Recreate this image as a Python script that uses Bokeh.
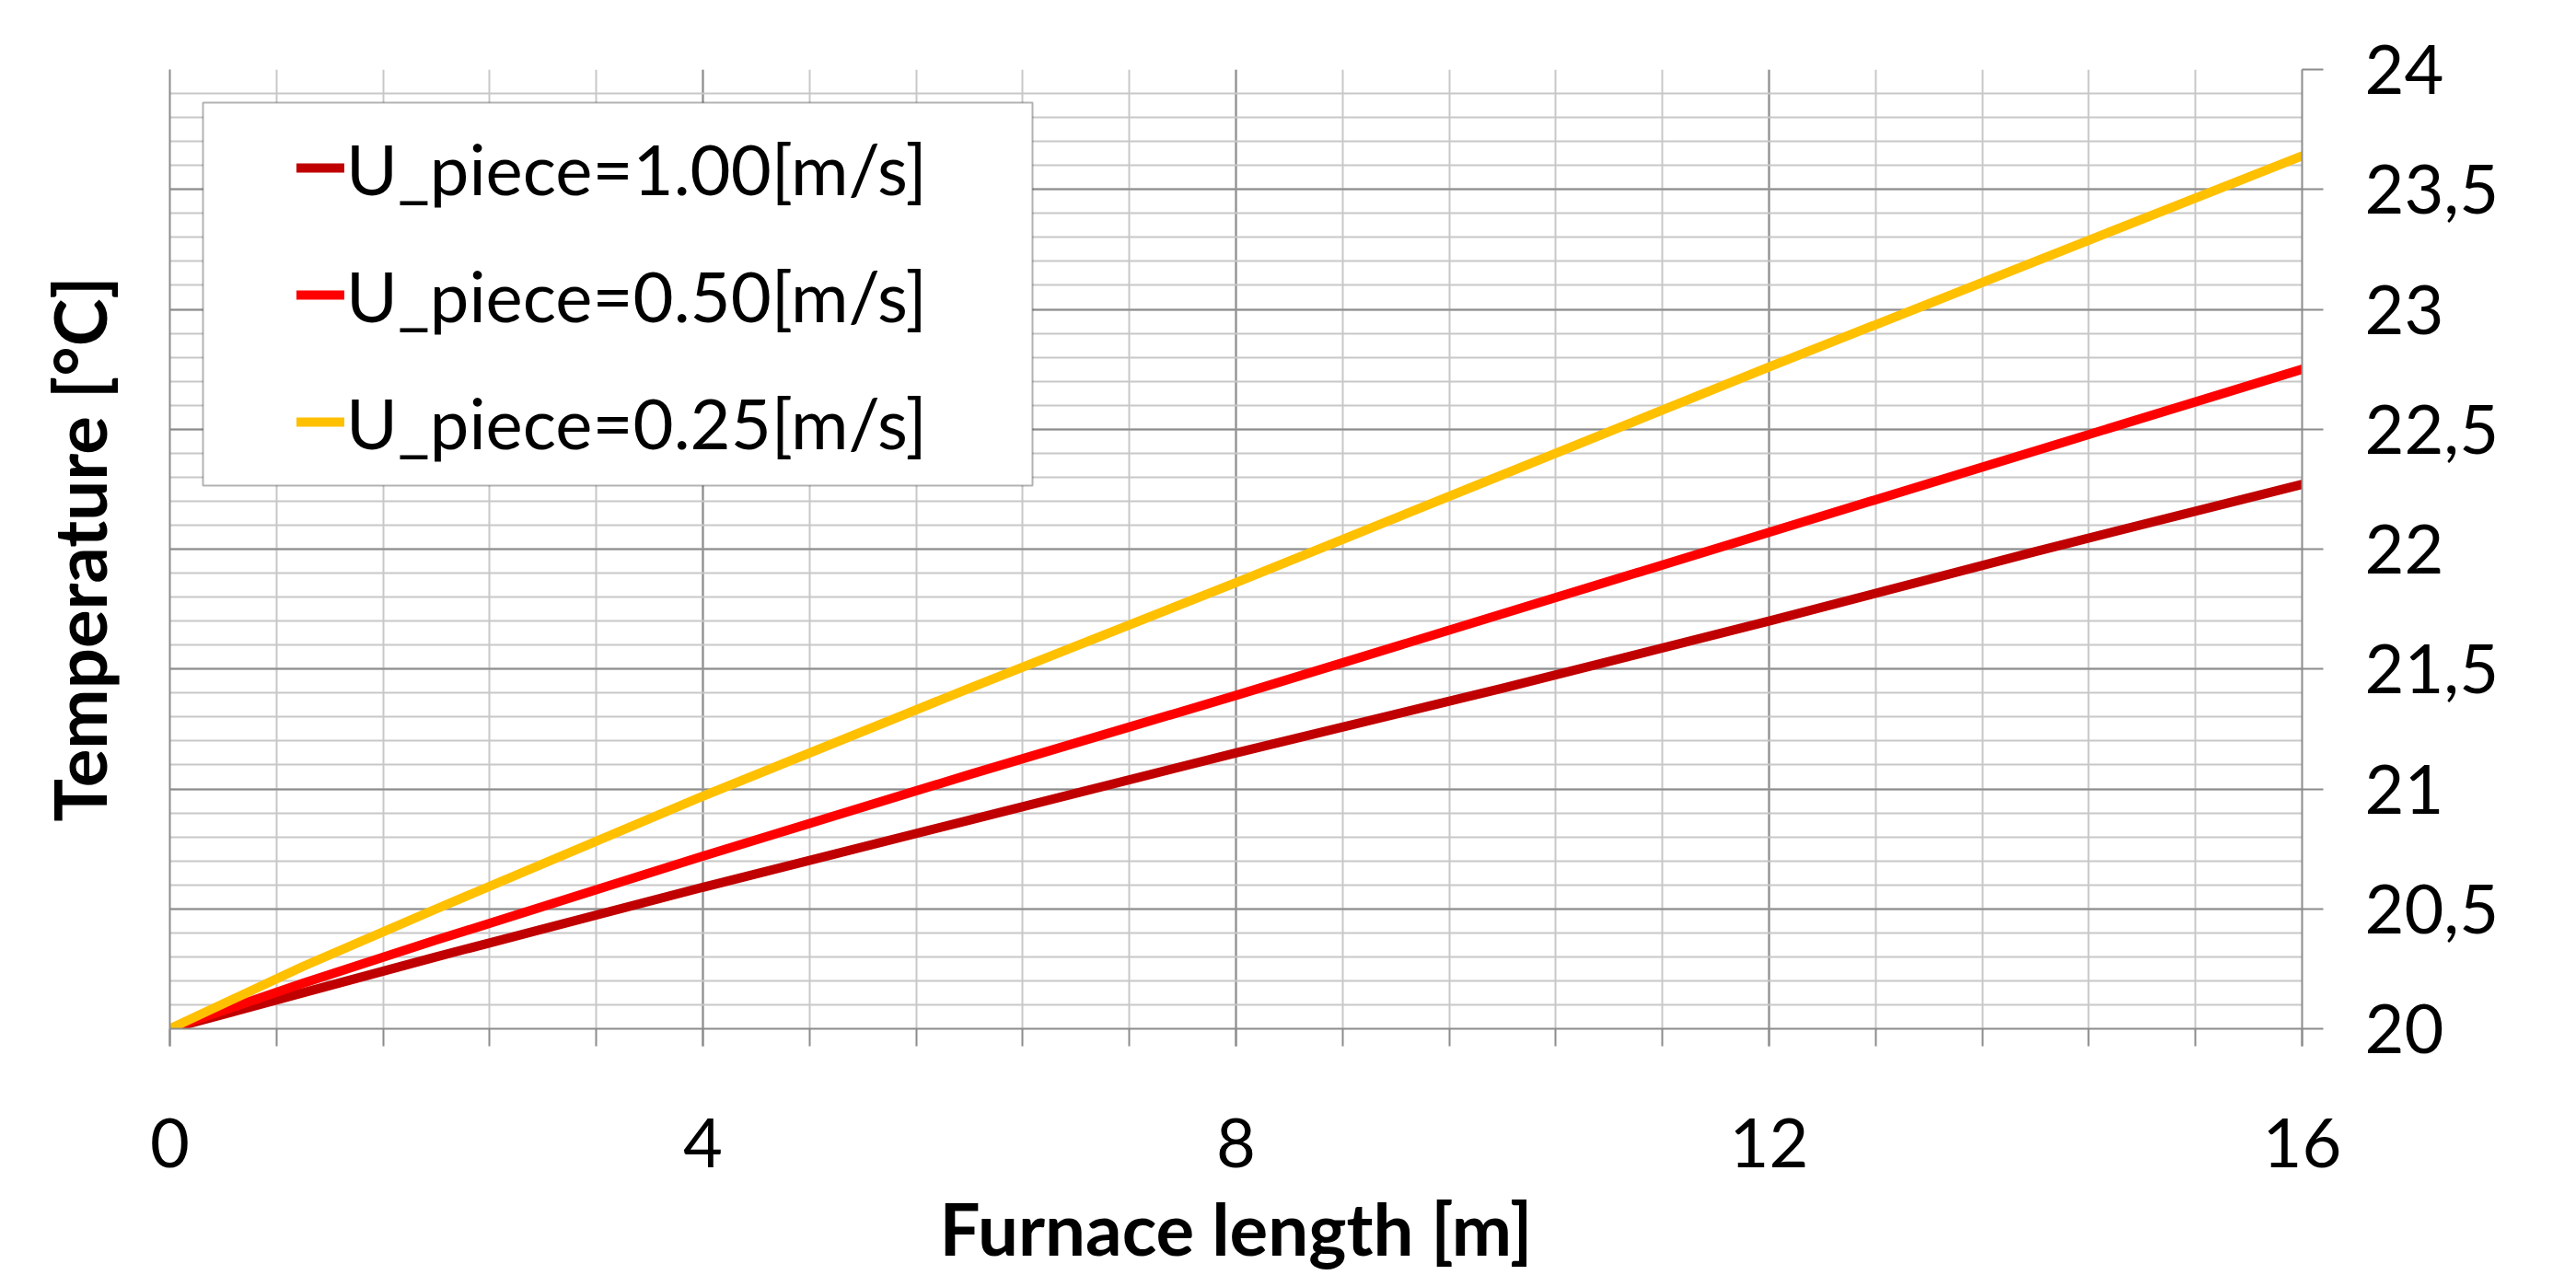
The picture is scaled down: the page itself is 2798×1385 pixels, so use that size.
from bokeh.plotting import figure
from bokeh.models import (LinearAxis, FixedTicker, CustomJSTickFormatter, Legend,
                          LegendItem, BoxAnnotation, Range1d, SingleIntervalTicker)
from bokeh.embed import file_html
from bokeh.resources import INLINE

# ---------------- data ----------------
distance = [0, 1, 2, 4, 6, 8, 10, 12, 14, 16]
temp_u100 = [20.00, 20.15, 20.30, 20.59, 20.87, 21.15, 21.42, 21.70, 21.99, 22.27]
temp_u050 = [20.00, 20.19, 20.37, 20.72, 21.06, 21.39, 21.73, 22.07, 22.41, 22.75]
temp_u025 = [20.00, 20.26, 20.50, 20.97, 21.42, 21.86, 22.31, 22.76, 23.20, 23.64]
series_labels = ["U_piece=1.00[m/s]", "U_piece=0.50[m/s]", "U_piece=0.25[m/s]"]
series_colors = ["#C00000", "#FF0000", "#FFC000"]
x_label = "Furnace length [m]"
y_label = "Temperature [°C]"
X0, X1 = 0, 16
Y0, Y1 = 20, 24

# ---------------- layout ----------------
W, H = 2798, 1385
L, R, T, B = 184, 298, 75, 268
FW, FH = W - L - R, H - T - B
FONT = "Lato"
FS = "74px"
FS_LEG = "76px"
FS_TITLE = "78px"
GRID_MAJOR = "#8c8c8c"
GRID_MINOR = "#c8c8c8"


def px2x(px):
    return X0 + (px - L) / FW * (X1 - X0)


def px2y(py):
    return Y1 - (py - T) / FH * (Y1 - Y0)


p = figure(width=W, height=H, output_backend="svg", toolbar_location=None,
           x_range=Range1d(X0, X1), y_range=Range1d(Y0, Y1),
           y_axis_location="right",
           min_border_left=L, min_border_right=R, min_border_top=T, min_border_bottom=B)
p.outline_line_color = None
p.background_fill_color = "white"
p.border_fill_color = "white"

# x axis
xa = p.xaxis[0]
xa.ticker = SingleIntervalTicker(interval=4, num_minor_ticks=5)
xa.axis_label = x_label
xa.axis_label_text_font = FONT
xa.axis_label_text_font_size = FS_TITLE
xa.axis_label_text_font_style = "bold"
xa.axis_label_text_color = "black"
xa.axis_label_standoff = 16
xa.major_label_text_font = FONT
xa.major_label_text_font_size = FS
xa.major_label_text_color = "black"
xa.major_label_standoff = 78
xa.axis_line_color = GRID_MAJOR
xa.axis_line_width = 2
xa.major_tick_line_color = GRID_MAJOR
xa.minor_tick_line_color = GRID_MAJOR
xa.major_tick_line_width = 2
xa.minor_tick_line_width = 2
xa.major_tick_in = 0
xa.minor_tick_in = 0
xa.major_tick_out = 19
xa.minor_tick_out = 19

# right y axis
ya = p.yaxis[0]
ya.ticker = SingleIntervalTicker(interval=0.5, num_minor_ticks=5)
ya.formatter = CustomJSTickFormatter(code="return tick.toString().replace('.', ',');")
ya.major_label_text_font = FONT
ya.major_label_text_font_size = FS
ya.major_label_text_color = "black"
ya.major_label_standoff = 45
ya.axis_line_color = GRID_MAJOR
ya.axis_line_width = 2
ya.major_tick_line_color = GRID_MAJOR
ya.major_tick_line_width = 2
ya.major_tick_in = 0
ya.major_tick_out = 23
ya.minor_tick_line_color = None

# left axis: title and line only
la = LinearAxis(ticker=FixedTicker(ticks=[]), axis_label=y_label)
la.axis_label_text_font = FONT
la.axis_label_text_font_size = FS_TITLE
la.axis_label_text_font_style = "bold"
la.axis_label_text_color = "black"
la.axis_label_standoff = 52
la.axis_line_color = GRID_MAJOR
la.axis_line_width = 2
la.major_tick_line_color = None
la.minor_tick_line_color = None
la.major_label_text_font_size = "0px"
p.add_layout(la, "left")

# grids
for g in (p.xgrid[0], p.ygrid[0]):
    g.grid_line_color = GRID_MAJOR
    g.grid_line_width = 2
    g.minor_grid_line_color = GRID_MINOR
    g.minor_grid_line_width = 2
p.xgrid[0].ticker = xa.ticker
p.ygrid[0].ticker = ya.ticker

# lines
renderers = []
for ys, col in zip([temp_u100, temp_u050, temp_u025], series_colors):
    r = p.line(distance, ys, line_color=col, line_width=10, line_cap="round", line_join="round")
    renderers.append(r)

# legend frame
box = BoxAnnotation(left=px2x(220), right=px2x(1121), top=px2y(111), bottom=px2y(527),
                    fill_color="white", fill_alpha=1.0, line_color="black", line_width=2)
p.add_layout(box)

legend = Legend(items=[LegendItem(label=lab, renderers=[r]) for lab, r in zip(series_labels, renderers)],
                location=(138, 609), padding=0, margin=0, spacing=38,
                glyph_width=52, glyph_height=100, label_height=100, label_standoff=2,
                label_text_font=FONT, label_text_font_size=FS_LEG, label_text_color="black",
                border_line_color=None, background_fill_alpha=0)
p.add_layout(legend)

open("out.html", "w").write(file_html(p, INLINE))
